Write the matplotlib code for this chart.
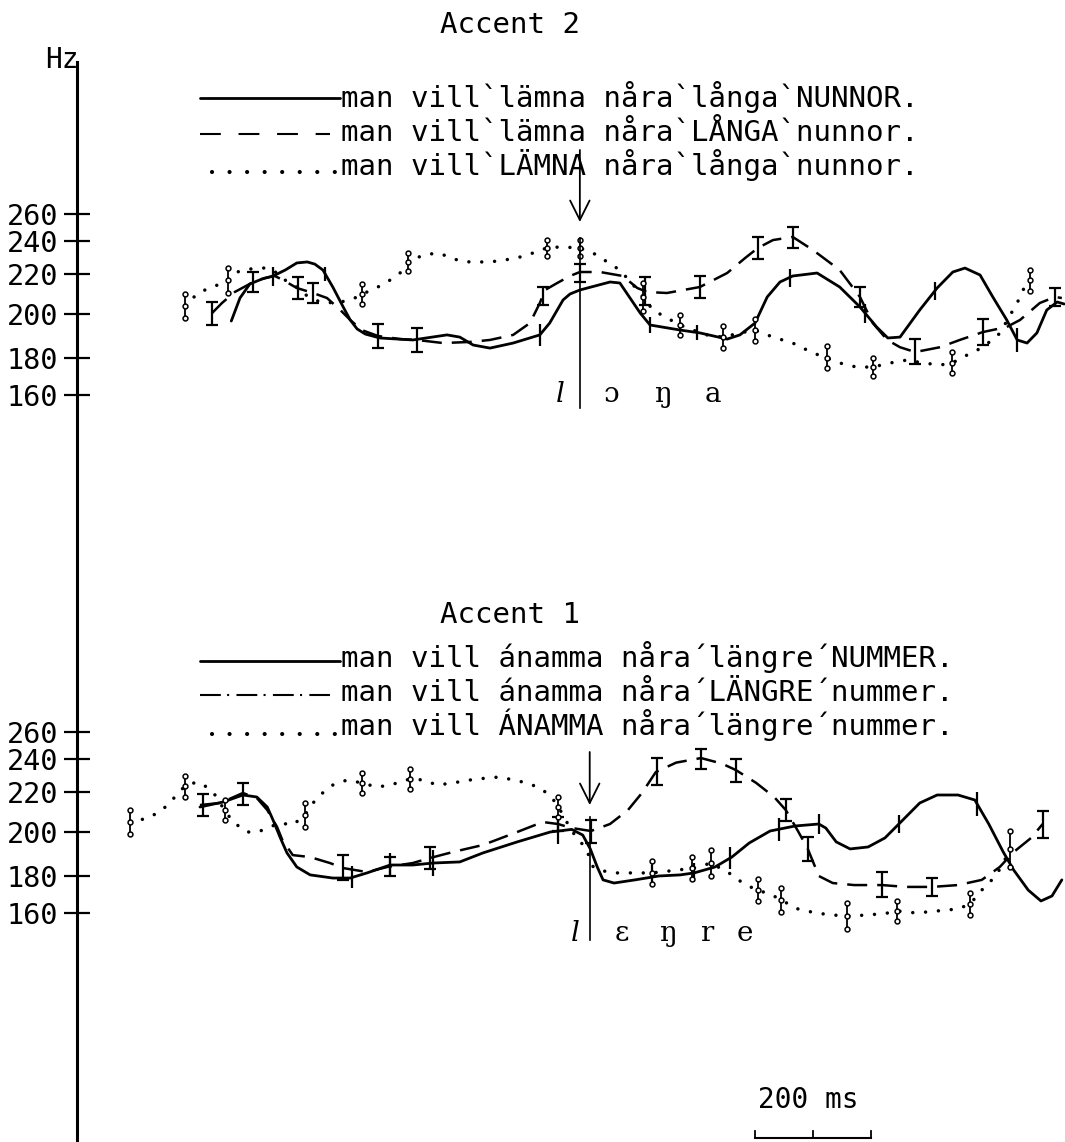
import numpy as np
import matplotlib
matplotlib.use("Agg")
import matplotlib.pyplot as plt
from matplotlib import transforms
from matplotlib.lines import Line2D

plt.rcParams['font.family'] = ['DejaVu Sans Mono', 'DejaVu Sans']

# ---- data: time (ms) and F0 (Hz) ----
# Accent 2, focus on NUNNOR (solid)
a2_nunnor_t = [266, 281, 298, 319, 338, 359, 379, 397, 410, 424, 441, 459, 471, 483, 497, 522, 579, 638, 660, 683,
               712, 752, 798, 815, 828, 838, 850, 867, 893, 919, 936, 950, 971, 988, 1040, 1074, 1121, 1143, 1169, 1190,
               1212, 1234, 1276, 1315, 1350, 1379, 1398, 1419, 1453, 1483, 1510, 1531, 1557, 1579, 1603, 1621, 1638,
               1655, 1672, 1690, 1702]
a2_nunnor_hz = [196.8, 208, 215, 217.5, 219, 222.4, 226.7, 227.3, 226, 222.4, 213.5, 203.5, 197.3, 193.2, 190.9, 189.1,
                188.2, 190.5, 189.5, 185.9, 184.5, 186.8, 190.5, 195.9, 202, 207, 210, 212, 214, 216, 215.5, 209.5,
                200.5, 195, 192.7, 191.4, 188.6, 190.5, 195.9, 208.5, 216, 219, 220.6, 213.5, 203.5, 194, 189.1, 189.5,
                202, 213, 221.2, 223.6, 219.5, 208.5, 197.3, 188.2, 186.8, 191.4, 202, 206, 205]
a2_nunnor_bar_t = [338, 428, 798, 988, 1069, 1229, 1359, 1479, 1621]
a2_nunnor_bar_sd = [5, 4, 5, 3.5, 3.5, 5, 4.5, 4.5, 5.5]

# Accent 2, focus on LÅNGA (dashed)
a2_langa_t = [233, 250, 272, 304, 324, 341, 355, 379, 407, 431, 454, 471, 491, 519, 557, 586, 631, 678, 712, 752,
              781, 798, 807, 828, 850, 867, 902, 941, 966, 983, 1017, 1074, 1121, 1152, 1174, 1200, 1234, 1269, 1315,
              1350, 1372, 1397, 1419, 1445, 1488, 1522, 1562, 1603, 1626, 1660, 1686, 1698]
a2_langa_hz = [200.5, 205.5, 211, 216, 218, 219, 217, 213, 210.5, 208, 202, 197.3, 192.7, 190, 188.6, 188.2, 186.8,
               187.3, 188.2, 190.5, 195.9, 205.5, 212, 215.5, 219, 221.2, 221.2, 219, 213, 211, 210.5, 213.5, 220.6,
               229.7, 235.8, 240.7, 243, 234.5, 222.4, 208.5, 195.9, 188.2, 184.9, 182.7, 184.9, 188.2, 191.8, 194.1,
               197.3, 205.5, 208.5, 208]
a2_langa_bar_t = [233, 304, 381, 407, 519, 586, 803, 867, 979, 1074, 1174, 1234, 1350, 1445, 1562, 1686]
a2_langa_bar_sd = [5.5, 5, 5.5, 5, 5.5, 5.5, 4.5, 5, 7, 5.5, 7, 7.5, 5, 6, 6, 4.5]

# Accent 2, focus on LÄMNA (dotted)
a2_lamna_t = [186, 207, 224, 247, 260, 276, 298, 316, 329, 345, 355, 372, 397, 419, 448, 476, 491, 509, 535, 557,
              571, 597, 621, 638, 660, 678, 712, 738, 764, 786, 810, 833, 867, 897, 914, 936, 959, 976, 993, 1017,
              1040, 1062, 1086, 1114, 1143, 1169, 1200, 1234, 1269, 1293, 1315, 1344, 1372, 1402, 1431, 1459, 1488,
              1509, 1535, 1562, 1592, 1604, 1621, 1631, 1643]
a2_lamna_hz = [204, 210, 212.5, 215, 217, 221.2, 223, 223.6, 223.6, 220.6, 217.5, 215, 209, 206, 205.5, 207.5, 210,
               212, 216, 220.6, 227.3, 231.5, 232.7, 230.9, 227.9, 227.3, 227.3, 228.5, 230.3, 232.7, 235.8, 236.4,
               235.8, 231.5, 227.3, 222.4, 214.5, 208.5, 202, 198.2, 195, 192.7, 190.5, 189.5, 191.4, 192.7, 189.5,
               186.8, 182.3, 180, 177.3, 175.1, 175.1, 177.3, 178.9, 177.3, 176.2, 177.3, 181.4, 184.9, 191.4, 197.3,
               205.5, 212, 217]
a2_lamna_bar_t = [186, 260, 491, 571, 810, 867, 976, 1040, 1114, 1169, 1293, 1372, 1509, 1643]
a2_lamna_bar_sd = [6, 6.5, 5, 5.5, 5, 5, 7, 4.5, 5, 5, 5.5, 5, 5.5, 5.5]

# Accent 1, focus on NUMMER (solid)
a1_nummer_t = [212, 252, 286, 310, 328, 338, 350, 362, 379, 402, 441, 471, 500, 540, 579, 614, 660, 700, 759, 816,
               853, 872, 885, 897, 907, 926, 962, 1003, 1040, 1064, 1100, 1129, 1159, 1195, 1238, 1279, 1291, 1309,
               1333, 1364, 1393, 1417, 1453, 1483, 1519, 1548, 1572, 1597, 1615, 1640, 1662, 1681, 1698]
a1_nummer_hz = [212.5, 215, 218.5, 217.5, 212.5, 206, 197.7, 190.5, 184.1, 180.5, 178.9, 178.9, 181.4, 185, 185,
                185.9, 186.4, 190.5, 195.5, 200, 201.3, 198.6, 192.3, 184.1, 177.9, 176.2, 177.9, 180, 180.5, 181.4,
                184.1, 188.6, 195, 200.5, 203, 204, 202, 195.5, 192.3, 193.2, 197.3, 204, 214.5, 218.5, 218.5, 216,
                204, 190.9, 182.7, 172.4, 166.5, 169.2, 177.9]
a1_nummer_bar_t = [474, 540, 614, 829, 991, 1064, 1126, 1210, 1279, 1417, 1552]
a1_nummer_bar_sd = [5.5, 5.5, 6, 6, 5.5, 4.5, 5, 5.5, 5, 4.5, 6]

# Accent 1, focus on LÄNGRE (dashed)
a1_langre_t = [212, 247, 286, 310, 328, 345, 354, 372, 402, 436, 459, 500, 535, 579, 609, 648, 700, 759, 803, 829,
               853, 886, 919, 950, 974, 998, 1033, 1076, 1112, 1136, 1171, 1202, 1222, 1243, 1260, 1279, 1303, 1340,
               1388, 1429, 1474, 1519, 1560, 1591, 1615, 1645, 1665]
a1_langre_hz = [213.5, 214.5, 219.5, 217, 211, 202.5, 196.4, 189.5, 188.6, 185.9, 183.6, 181.8, 184.1, 185.9, 188.2,
                190.9, 194.1, 200, 205, 204, 202, 200.5, 204, 211, 219.5, 232.1, 237.8, 240.7, 237.2, 233.3, 225.5,
                217.5, 211, 200.5, 192.3, 180, 176.2, 175.1, 175.1, 174.1, 174.1, 175.1, 177.9, 184.1, 190.9, 197.3, 204]
a1_langre_bar_t = [217, 286, 459, 540, 609, 829, 886, 1000, 1076, 1136, 1222, 1260, 1388, 1474, 1665]
a1_langre_bar_sd = [5.5, 6, 6, 4.5, 5, 3.5, 5.5, 8, 6.5, 7, 5.5, 5.5, 6.5, 5, 6.5]

# Accent 1, focus on ÁNAMMA (dotted)
a1_anamma_t = [91, 109, 126, 147, 164, 186, 207, 224, 238, 252, 269, 293, 312, 328, 350, 372, 393, 407, 419, 441,
               466, 491, 517, 540, 574, 597, 621, 648, 678, 707, 729, 752, 776, 798, 817, 833, 853, 878, 890, 907,
               931, 962, 991, 1022, 1064, 1093, 1124, 1148, 1172, 1195, 1214, 1243, 1274, 1303, 1328, 1364, 1398,
               1414, 1447, 1483, 1519, 1540, 1560, 1584, 1597, 1609]
a1_anamma_hz = [205, 206, 207.5, 211, 216, 223.6, 226.1, 223, 218.5, 212, 205, 200, 200, 202, 204.5, 203.5, 208.5,
                214.5, 218.5, 224.2, 227.3, 225.5, 223, 224.2, 227.9, 227.3, 224.2, 225.5, 227.3, 228.5, 229.1, 227.3,
                225.5, 222.4, 218, 211, 200.5, 192.3, 184.1, 182.3, 181.4, 181.4, 181.4, 182.3, 183.6, 185.9, 181.4,
                176.2, 172.4, 170.3, 167, 162.2, 160, 158.9, 158.4, 158.9, 160, 161.1, 160, 161.1, 162.2, 164.9, 172.4,
                180, 185.9, 192.3]
a1_anamma_bar_t = [91, 186, 255, 393, 491, 574, 829, 991, 1060, 1093, 1174, 1214, 1328, 1414, 1540, 1609]
a1_anamma_bar_sd = [6, 6, 5, 6, 6, 6, 5, 5.5, 5, 6, 6, 6.5, 7, 5.5, 6, 8]

hz_ticks = [160, 180, 200, 220, 240, 260]

legend_a2 = ["man vill`lämna nåra`långa`NUNNOR.",
             "man vill`lämna nåra`LÅNGA`nunnor.",
             "man vill`LÄMNA nåra`långa`nunnor."]
legend_a1 = ["man vill ánamma nåra´längre´NUMMER.",
             "man vill ánamma nåra´LÄNGRE´nummer.",
             "man vill ÁNAMMA nåra´längre´nummer."]
segments_a2 = ["l", "ɔ", "ŋ", "a"]
segments_a1 = ["l", "ɛ", "ŋ", "r", "e"]

# ---- layout ----
W, H = 1065, 1142
MS_PER_PX = 200 / 116
AX_LEFT, AX_RIGHT = 77, 1066

# the hand-drawn frequency axis is not quite logarithmic: tick spacing in px above 160 Hz
TICK_OFF = [0, 37, 81, 121, 154, 181]


def _pw(v, xs, ys):
    v = np.asarray(v, dtype=float)
    out = np.interp(v, xs, ys)
    s0 = (ys[1] - ys[0]) / (xs[1] - xs[0])
    s1 = (ys[-1] - ys[-2]) / (xs[-1] - xs[-2])
    out = np.where(v < xs[0], ys[0] + (v - xs[0]) * s0, out)
    out = np.where(v > xs[-1], ys[-1] + (v - xs[-1]) * s1, out)
    return out


def fwd(v):
    return _pw(v, hz_ticks, TICK_OFF)


def inv(v):
    return _pw(v, TICK_OFF, hz_ticks)


fig = plt.figure(figsize=(W / 100, H / 100), dpi=100)
px = transforms.Affine2D().scale(1 / W, -1 / H).translate(0, 1) + fig.transFigure


def make_panel(y160, y_top, y_bottom):
    ax = fig.add_axes([AX_LEFT / W, 1 - y_bottom / H, (AX_RIGHT - AX_LEFT) / W, (y_bottom - y_top) / H])
    ax.set_yscale('function', functions=(fwd, inv))
    ax.set_xlim(0, (AX_RIGHT - AX_LEFT) * MS_PER_PX)
    ax.set_ylim(float(inv(y160 - y_bottom)), float(inv(y160 - y_top)))
    ax.set_yticks(hz_ticks)
    ax.set_yticklabels([str(v) for v in hz_ticks])
    ax.yaxis.set_minor_locator(plt.NullLocator())
    ax.set_xticks([])
    ax.tick_params(axis='y', direction='inout', length=19, width=1.6, pad=4.2, labelsize=20.5)
    for s in ax.spines.values():
        s.set_visible(False)
    ax.patch.set_visible(False)
    return ax


SOLID = dict(color='k', lw=2.0, solid_capstyle='round')
DASHED = dict(color='k', lw=1.8, linestyle=(0, (8, 4)))
DOTTED = dict(color='k', lw=2.5, linestyle=(0, (0.01, 3.7)), dash_capstyle='round')


def draw_curve(ax, t, hz, style, bar_t, bar_sd, kind):
    ax.plot(t, hz, **style)
    c = np.interp(bar_t, t, hz)
    sd = np.asarray(bar_sd)
    if kind == 'solid':
        ax.errorbar(bar_t, c, yerr=sd, fmt='none', ecolor='k', elinewidth=1.6, capsize=0)
    elif kind == 'dashed':
        ax.errorbar(bar_t, c, yerr=sd, fmt='none', ecolor='k', elinewidth=1.6, capsize=4, capthick=1.6)
    else:
        ax.errorbar(bar_t, c, yerr=sd, fmt='none', ecolor='k', elinewidth=1.3, capsize=0)
        for y in (c - sd, c, c + sd):
            ax.plot(bar_t, y, 'o', ms=3.5, mfc='white', mec='k', mew=1.1, ls='none')


def legend_block(text_rows, sample_rows, texts, mid_style):
    fig.add_artist(Line2D([200, 340], [sample_rows[0]] * 2, transform=px, **SOLID))
    fig.add_artist(Line2D([200, 330], [sample_rows[1]] * 2, transform=px, color='k', lw=1.5,
                          linestyle=mid_style))
    fig.add_artist(Line2D([212, 337], [sample_rows[2]] * 2, transform=px, color='k', lw=3,
                          linestyle=(0, (0.01, 4.2)), dash_capstyle='round'))
    for y, s in zip(text_rows, texts):
        fig.text(341, y, s, transform=px, fontsize=21, va='baseline', ha='left')


# ---- Accent 2 ----
ax1 = make_panel(395, 140, 430)
draw_curve(ax1, a2_nunnor_t, a2_nunnor_hz, SOLID, a2_nunnor_bar_t, a2_nunnor_bar_sd, 'solid')
draw_curve(ax1, a2_langa_t, a2_langa_hz, DASHED, a2_langa_bar_t, a2_langa_bar_sd, 'dashed')
draw_curve(ax1, a2_lamna_t, a2_lamna_hz, DOTTED, a2_lamna_bar_t, a2_lamna_bar_sd, 'dotted')
bx1 = transforms.blended_transform_factory(ax1.transData, px)
ax1.plot([867, 867], [238, 408], transform=bx1, color='k', lw=1.2, clip_on=False)
ax1.annotate('', xy=(867, 222), xytext=(867, 150), xycoords=bx1, textcoords=bx1, annotation_clip=False,
             arrowprops=dict(arrowstyle='->,head_length=0.7,head_width=0.35', lw=1.3, color='k', mutation_scale=20,
                             shrinkA=0, shrinkB=0))
for tx, s in zip([833, 922, 1010, 1097], segments_a2):
    ax1.text(tx, 402, s, transform=bx1, fontsize=20, ha='center', va='baseline', family='DejaVu Serif',
             style='italic' if s == 'l' else 'normal')

fig.text(440, 33, 'Accent 2', transform=px, fontsize=21, va='baseline')
legend_block([107, 141, 175], [98, 134, 172], legend_a2, (0, (10, 8.5)))

# ---- Accent 1 ----
ax2 = make_panel(913, 720, 960)
draw_curve(ax2, a1_nummer_t, a1_nummer_hz, SOLID, a1_nummer_bar_t, a1_nummer_bar_sd, 'solid')
draw_curve(ax2, a1_langre_t, a1_langre_hz, DASHED, a1_langre_bar_t, a1_langre_bar_sd, 'dashed')
draw_curve(ax2, a1_anamma_t, a1_anamma_hz, DOTTED, a1_anamma_bar_t, a1_anamma_bar_sd, 'dotted')
bx2 = transforms.blended_transform_factory(ax2.transData, px)
ax2.plot([884, 884], [817, 940], transform=bx2, color='k', lw=1.2, clip_on=False)
ax2.annotate('', xy=(884, 805), xytext=(884, 752), xycoords=bx2, textcoords=bx2, annotation_clip=False,
             arrowprops=dict(arrowstyle='->,head_length=0.7,head_width=0.35', lw=1.3, color='k', mutation_scale=20,
                             shrinkA=0, shrinkB=0))
for tx, s in zip([859, 940, 1019, 1086, 1152], segments_a1):
    ax2.text(tx, 941, s, transform=bx2, fontsize=20, ha='center', va='baseline', family='DejaVu Serif',
             style='italic' if s == 'l' else 'normal')

fig.text(440, 623, 'Accent 1', transform=px, fontsize=21, va='baseline')
legend_block([667, 701, 735], [661, 695, 734], legend_a1, (0, (10, 3, 1, 3.5)))

# ---- shared frequency axis, unit and time scale bar ----
fig.add_artist(Line2D([AX_LEFT, AX_LEFT], [62, H], transform=px, color='k', lw=2.2))
fig.text(45, 68, 'Hz', transform=px, fontsize=20, va='baseline')

bar_start, bar_len = 1169, 200
ax2.plot([bar_start, bar_start + bar_len], [1138, 1138], transform=bx2, color='k', lw=1.5, clip_on=False)
for xt in (bar_start, bar_start + bar_len / 2, bar_start + bar_len):
    ax2.plot([xt, xt], [1138, 1131], transform=bx2, color='k', lw=1.3, clip_on=False)
fig.text(758, 1108, '200 ms', transform=px, fontsize=20, va='baseline')

fig.savefig('out.png', dpi=100)
